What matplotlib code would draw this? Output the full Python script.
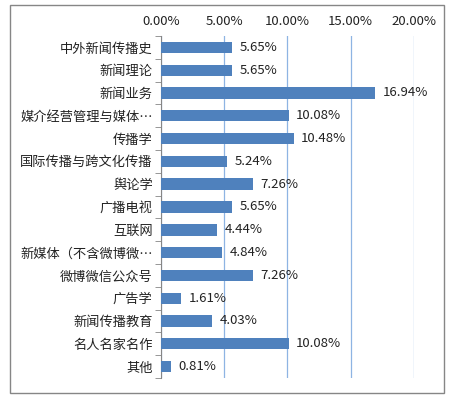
import matplotlib
matplotlib.use("Agg")
import matplotlib.pyplot as plt
from matplotlib.patches import Rectangle

plt.rcParams['font.family'] = ['Noto Sans CJK SC', 'DejaVu Sans']

categories = ["中外新闻传播史", "新闻理论", "新闻业务", "媒介经营管理与媒体…", "传播学",
              "国际传播与跨文化传播", "舆论学", "广播电视", "互联网", "新媒体（不含微博微…",
              "微博微信公众号", "广告学", "新闻传播教育", "名人名家名作", "其他"]
values = [5.65, 5.65, 16.94, 10.08, 10.48, 5.24, 7.26, 5.65, 4.44, 4.84, 7.26, 1.61, 4.03, 10.08, 0.81]
xticks = [0, 5, 10, 15, 20]

fig = plt.figure(figsize=(4.56, 3.99), dpi=100)
fig.patches.append(Rectangle((10/456, 1-393/399), 434/456, 388/399, transform=fig.transFigure,
                             fill=False, edgecolor='#868686', linewidth=1.0))
ax = fig.add_axes([161/456, 1-378/399, 253/456, 342/399])
n = len(categories)
ypos = list(range(n))
ax.barh(ypos, values, height=0.5, color='#4F81BD', zorder=3)
ax.set_ylim(n - 0.5, -0.5)
ax.set_xlim(0, 20)
ax.xaxis.tick_top()
ax.set_xticks(xticks)
ax.set_xticklabels([f"{v:.2f}%" for v in xticks], fontsize=9.5, color='#222222')
ax.tick_params(axis='x', length=0, pad=6)
ax.set_yticks(ypos)
ax.set_yticklabels(categories, fontsize=9.5, color='#222222')
ax.tick_params(axis='y', which='major', length=0, pad=6)
ax.set_yticks([i + 0.5 for i in range(-1, n)], minor=True)
ax.tick_params(axis='y', which='minor', length=4, color='#868686', direction='out')
ax.grid(axis='x', color='#8EB4E3', linewidth=0.9, zorder=0)
for s in ['top', 'right', 'bottom']:
    ax.spines[s].set_visible(False)
ax.spines['left'].set_color('#868686')
for y, v in zip(ypos, values):
    ax.text(v + 0.6, y, f"{v:.2f}%", va='center', ha='left', fontsize=9.5, color='#222222')
fig.savefig("out.png", dpi=100)
